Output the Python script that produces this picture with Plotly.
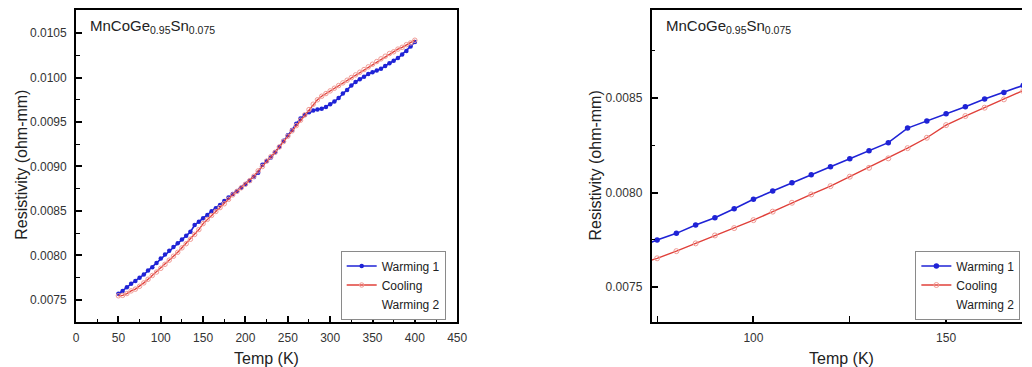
import plotly.graph_objects as go

# ---------------- data ----------------
temp_k = [50, 55, 60, 65, 70, 75, 80, 85, 90, 95, 100, 105, 110, 115, 120, 125, 130, 135,
          140, 145, 150, 155, 160, 165, 170, 175, 180, 185, 190, 195, 200, 205, 210, 215,
          220, 225, 230, 235, 240, 245, 250, 255, 260, 265, 270, 275, 280, 285, 290, 295,
          300, 305, 310, 315, 320, 325, 330, 335, 340, 345, 350, 355, 360, 365, 370, 375,
          380, 385, 390, 395, 400]

warming1 = [0.007567, 0.00760, 0.00764, 0.00768, 0.00771, 0.007749, 0.007784, 0.007828,
            0.007867, 0.007914, 0.007964, 0.008008, 0.008052, 0.008094, 0.008137, 0.008179,
            0.008221, 0.008264, 0.008341, 0.008378, 0.008417, 0.008454, 0.008495, 0.00853,
            0.008567, 0.00861, 0.00865, 0.00869, 0.00872, 0.00876, 0.00880, 0.00884,
            0.00888, 0.00893, 0.00902, 0.00906, 0.00910, 0.00916, 0.00922, 0.00929,
            0.00935, 0.00941, 0.00948, 0.00954, 0.00958, 0.00961, 0.00963, 0.00964,
            0.00965, 0.00967, 0.00970, 0.00973, 0.00977, 0.00982, 0.00986, 0.00991,
            0.00995, 0.00998, 0.01001, 0.01004, 0.01006, 0.01008, 0.01010, 0.01013,
            0.01016, 0.01019, 0.01022, 0.01026, 0.01030, 0.01035, 0.01040]

cooling = [0.007545, 0.00755, 0.00757, 0.00760, 0.00762, 0.007652, 0.00769, 0.007731,
           0.007773, 0.007812, 0.007854, 0.007899, 0.007946, 0.00799, 0.008034, 0.008084,
           0.008131, 0.008181, 0.008235, 0.00829, 0.008357, 0.008405, 0.008449, 0.008493,
           0.008537, 0.00858, 0.00863, 0.00868, 0.00872, 0.00876, 0.00880, 0.00884,
           0.00889, 0.00895, 0.00900, 0.00906, 0.00911, 0.00916, 0.00922, 0.00928,
           0.00934, 0.00940, 0.00946, 0.00952, 0.00958, 0.00964, 0.00970, 0.00975,
           0.00979, 0.00982, 0.00985, 0.00988, 0.00991, 0.00994, 0.00997, 0.01000,
           0.01003, 0.01006, 0.01009, 0.01012, 0.01015, 0.01018, 0.01021, 0.01024,
           0.01027, 0.01029, 0.01032, 0.01034, 0.01037, 0.01039, 0.01042]

series_names = ["Warming 1", "Cooling", "Warming 2"]
sample_label = "MnCoGe<sub>0.95</sub>Sn<sub>0.075</sub>"
x_title = "Temp (K)"
y_title = "Resistivity (ohm-mm)"

# ---------------- styling ----------------
W, H = 1032, 367
FONT = "Liberation Sans, Arial, sans-serif"
BLUE = "#1f23d6"
RED = "#e0403a"
TXT = "#222222"

fig = go.Figure()

panels = [
    dict(xa="x", ya="y", legend="legend", msize_b=4.5, msize_r=4.5),
    dict(xa="x2", ya="y2", legend="legend2", msize_b=5.5, msize_r=5),
]
for p in panels:
    fig.add_trace(go.Scatter(
        x=temp_k, y=warming1, name=series_names[0], mode="lines+markers",
        xaxis=p["xa"], yaxis=p["ya"], legend=p["legend"],
        line=dict(color=BLUE, width=1.6),
        marker=dict(symbol="circle", size=p["msize_b"], color=BLUE)))
    fig.add_trace(go.Scatter(
        x=temp_k, y=cooling, name=series_names[1], mode="lines+markers",
        xaxis=p["xa"], yaxis=p["ya"], legend=p["legend"],
        line=dict(color=RED, width=1.4),
        marker=dict(symbol="circle-open", size=p["msize_r"], color="#f09a94",
                    line=dict(width=1, color="#f09a94"))))
    fig.add_trace(go.Scatter(
        x=temp_k, y=cooling, name=series_names[2], mode="lines",
        xaxis=p["xa"], yaxis=p["ya"], legend=p["legend"],
        line=dict(color="rgba(0,0,0,0)", width=1), hoverinfo="skip"))

yd = [1 - 322 / H, 1 - 10 / H]

common_axis = dict(
    showline=True, linecolor="black", linewidth=2, ticks="inside", ticklen=6,
    tickwidth=1.5, tickcolor="black", showgrid=False, zeroline=False,
    tickfont=dict(family=FONT, size=12, color="#333333"),
    minor=dict(ticks="inside", ticklen=3.5, tickwidth=1.2, tickcolor="black", showgrid=False),
)

legend_style = dict(xanchor="left", yanchor="middle", bgcolor="white",
                    bordercolor="#8a8a8a", borderwidth=1,
                    font=dict(family=FONT, size=12, color=TXT), itemwidth=30,
                    tracegroupgap=0)

fig.update_layout(
    width=W, height=H, margin=dict(l=0, r=0, t=0, b=0),
    paper_bgcolor="white", plot_bgcolor="white",
    font=dict(family=FONT, color=TXT),
    xaxis=dict(common_axis, domain=[74 / W, 460 / W], anchor="y", range=[0, 450],
               dtick=50, tick0=0, mirror=True, ticklabelstandoff=4,
               minor=dict(common_axis["minor"], dtick=25)),
    yaxis=dict(common_axis, domain=yd, anchor="x", range=[0.00725, 0.01076],
               dtick=0.0005, tick0=0.0075, tickformat=".4f", mirror=True,
               ticklabelstandoff=5, minor=dict(common_axis["minor"], dtick=0.00025)),
    xaxis2=dict(common_axis, domain=[657 / W, 1.0], anchor="y2", range=[73.6, 169.7],
                dtick=50, tick0=0, mirror=True, ticklabelstandoff=4,
                minor=dict(common_axis["minor"], dtick=25, ticklen=6)),
    yaxis2=dict(common_axis, domain=yd, anchor="x2", range=[0.007315, 0.008966],
                dtick=0.0005, tick0=0.0075, tickformat=".4f", mirror=False,
                ticklabelstandoff=5, minor=dict(common_axis["minor"], dtick=0.00025)),
    legend=dict(legend_style, x=342 / W, y=1 - 285 / H),
    legend2=dict(legend_style, x=924 / W, y=1 - 285 / H),
    showlegend=True,
)

def label(text, x_px, y_px, size, angle=0, anchor="center"):
    return dict(text=text, xref="paper", yref="paper", x=x_px / W, y=1 - y_px / H,
                xanchor=anchor, yanchor="middle", textangle=angle, showarrow=False,
                font=dict(family=FONT, size=size, color=TXT))

annotations = [
    # sample labels (inside the upper-left corner of each panel)
    label(sample_label, 86, 27, 15, anchor="left"),
    label(sample_label, 669, 27, 15, anchor="left"),
    # axis titles
    label(x_title, 267, 358, 16),
    label(x_title, 849, 358, 16),
    label(y_title, 18, 165, 16, angle=-90),
    label(y_title, 600, 165, 16, angle=-90),
]
fig.update_layout(annotations=annotations)

fig.write_html("out.html")
